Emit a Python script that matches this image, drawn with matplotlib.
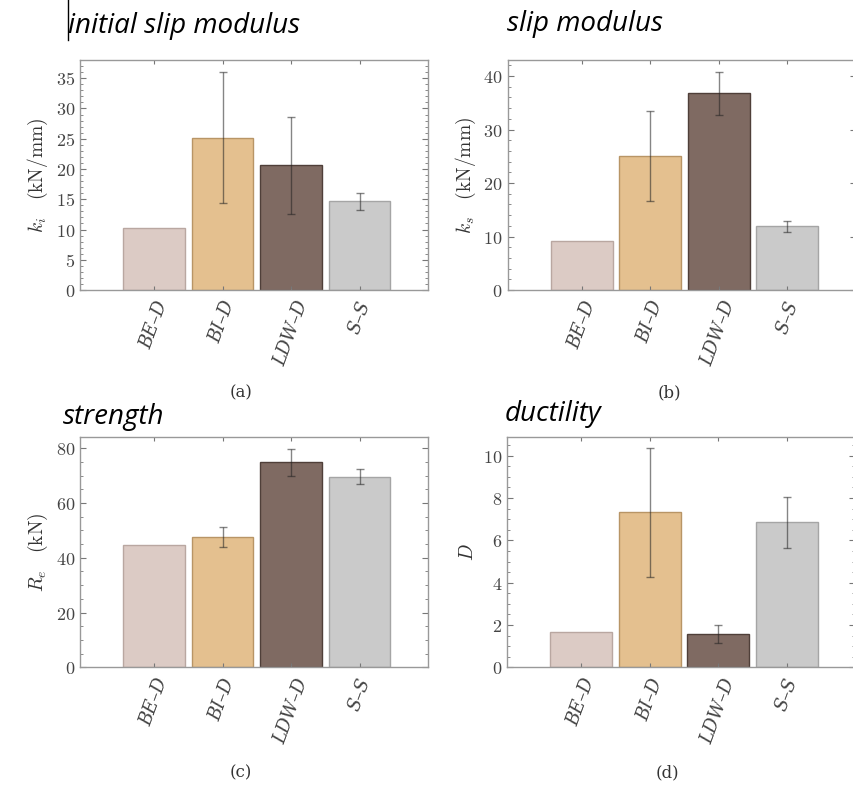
import matplotlib
matplotlib.use('Agg')
import matplotlib.pyplot as plt
from matplotlib.ticker import MultipleLocator, FuncFormatter
from matplotlib.lines import Line2D

plt.rcParams['mathtext.fontset'] = 'cm'
plt.rcParams['font.family'] = ['DejaVu Serif']

categories = ['BE–D', 'BI–D', 'LDW–D', 'S–S']
colors = ['#dccbc5', '#e4c08f', '#7f6a62', '#cacaca']
edges = ['#b9a7a1', '#b89566', '#4f3f39', '#a5a5a5']

# (a) initial slip modulus k_i (kN/mm)
ki_mean = [10.3, 25.2, 20.6, 14.7]
ki_err = [0.0, 10.9, 8.0, 1.4]
# (b) slip modulus k_s (kN/mm)
ks_mean = [9.1, 25.1, 36.8, 11.9]
ks_err = [0.0, 8.4, 4.0, 1.1]
# (c) strength R_e (kN)
re_mean = [44.6, 47.6, 74.9, 69.6]
re_err = [0.0, 3.8, 5.0, 2.8]
# (d) ductility D
d_mean = [1.65, 7.32, 1.57, 6.85]
d_err = [0.0, 3.05, 0.43, 1.2]

panels = [
    # left, bottom, mean, err, ylabel, ytop, major, minor, title, title pos, sub label pos
    (0.0937, 0.6310, ki_mean, ki_err, r'$k_i\quad(\mathrm{kN/mm})$', 38, 5, 1,
     'initial slip modulus', (68, 33), '(a)', (230, 393)),
    (0.5945, 0.6310, ks_mean, ks_err, r'$k_s\quad(\mathrm{kN/mm})$', 43, 10, 2,
     'slip modulus', (507, 31), '(b)', (658, 393)),
    (0.0937, 0.1510, re_mean, re_err, r'$R_e\quad(\mathrm{kN})$', 84, 20, 5,
     'strength', (63, 424), '(c)', (230, 773)),
    (0.5940, 0.1510, d_mean, d_err, r'$D$', 10.87, 2, 0.5,
     'ductility', (505, 421), '(d)', (656, 773)),
]

W, H = 854, 786
fig = plt.figure(figsize=(W / 100, H / 100), dpi=100)
x = [1, 2, 3, 4]

for (l, b, mean, err, ylab, ytop, maj, mnr, title, tpos, sub, spos) in panels:
    ax = fig.add_axes([l, b, 0.4075, 0.2926])
    ax.bar(x, mean, width=0.9, color=colors, edgecolor=edges, linewidth=1.0)
    for xi, m, e in zip(x, mean, err):
        if e > 0:
            ax.errorbar(xi, m, yerr=e, fmt='none', ecolor='#222222', alpha=0.55,
                        elinewidth=1.0, capsize=3, capthick=1.0)
    ax.set_xlim(-0.08, 5.0)
    ax.set_ylim(0, ytop)
    ax.yaxis.set_major_locator(MultipleLocator(maj))
    ax.yaxis.set_minor_locator(MultipleLocator(mnr))
    ax.yaxis.set_major_formatter(FuncFormatter(lambda v, p: r'$%g$' % v))
    ax.set_xticks(x)
    ax.set_xticklabels(categories, rotation=70, ha='center', va='top',
                       fontstyle='italic', fontsize=10.5, color='#333333')
    ax.tick_params(axis='both', which='both', direction='in', top=True, right=True,
                   color='#777777', labelsize=13, labelcolor='#444444')
    ax.tick_params(axis='y', which='major', length=4)
    ax.tick_params(axis='y', which='minor', length=2)
    ax.tick_params(axis='x', length=3, pad=6)
    for sp in ax.spines.values():
        sp.set_color('#999999')
        sp.set_linewidth(1.0)
    ax.set_ylabel(ylab, fontsize=14, color='#333333', labelpad=4)
    fig.text(tpos[0] / W, 1 - tpos[1] / H, title, fontsize=20, fontstyle='italic',
             family=['Open Sans', 'DejaVu Sans'], ha='left', va='baseline')
    fig.text(spos[0] / W, 1 - spos[1] / H, sub, fontsize=12, color='#333333',
             ha='left', va='center')

# text cursor line left of the first title
fig.add_artist(Line2D([68 / W, 68 / W], [1.0, 1 - 40 / H], color='black', lw=1.0))

fig.savefig('out.png', dpi=100)
